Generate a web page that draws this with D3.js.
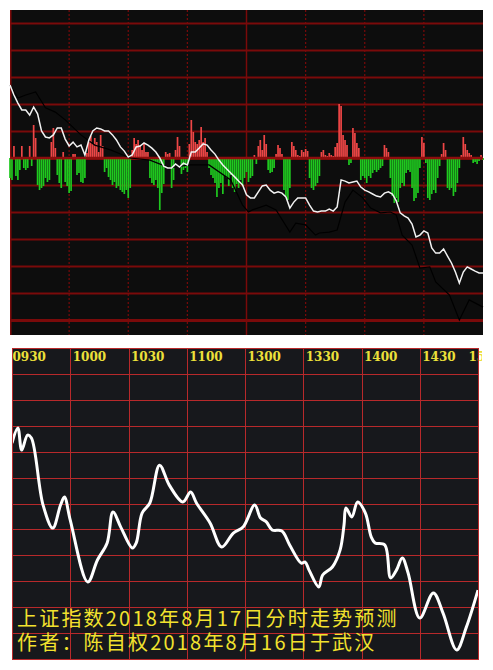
<!DOCTYPE html>
<html>
<head>
<meta charset="utf-8">
<script src="https://cdnjs.cloudflare.com/ajax/libs/d3/7.8.5/d3.min.js"></script>
<style>
  body { margin: 0; background: #ffffff; }
</style>
</head>
<body>
<div class="chart"></div>
<script>
//Trading minutes and their labels (0930 .. 1500, lunch break folded out)
var tickMinutes = [0, 30, 60, 90, 120, 150, 180, 210, 240];
var timeLabels = ["0930", "1000", "1030", "1100", "1300", "1330", "1400", "1430", "1500"];

//Upper panel: change vs previous close (index points), sampled every 2 minutes
var priceChg = [
  24.3, 21.0, 18.3, 16.0, 16.0, 14.3, 17.0, 14.7, 9.0, 7.0,
  6.7, 7.7, 10.0, 10.0, 6.3, 4.0, 5.3, 3.7, 4.3, 1.0,
  6.0, 9.0, 10.0, 9.7, 9.0, 9.0, 7.7, 6.0, 3.7, 2.3,
  0.3, 1.0, 3.7, 4.0, 5.0, 4.3, 3.3, 2.0, 0.0, -2.7,
  -3.3, -3.3, -2.0, -3.0, -1.7, -2.3, 2.0, 2.0, 3.3, 4.7,
  4.3, 2.7, 1.3, -0.7, -2.3, -3.7, -5.0, -6.3, -7.7, -9.0,
  -12.3, -13.3, -13.3, -11.3, -9.3, -9.0, -10.7, -11.7, -11.3, -11.7,
  -13.0, -16.7, -14.7, -13.3, -13.3, -13.3, -15.7, -17.7, -18.0, -17.7,
  -17.7, -17.0, -17.7, -16.3, -7.3, -7.7, -8.3, -8.0, -7.7, -9.7,
  -10.7, -11.3, -12.0, -12.7, -13.0, -11.7, -11.3, -12.0, -14.3, -18.3,
  -19.3, -20.0, -22.0, -26.3, -25.7, -24.3, -25.0, -30.0, -31.7, -31.7,
  -30.3, -32.7, -35.0, -38.0, -41.7, -38.0, -36.3, -37.0, -37.7, -38.3,
  -38.3
];

//Second (dark) line of the upper panel: [minute, change]
var leadLine = [
  [0, 24.3], [4, 20.0], [8, 21.0], [13, 22.0], [18, 16.7], [23, 15.3], [28, 12.7],
  [36, 7.7], [43, 4.3], [51, 2.7], [61, 0], [71, -0.7], [81, -3.3], [91, -2.3],
  [101, -2.3], [112, -7.3], [118, -15.7], [121, -18.0], [123, -17.3], [130, -15.7],
  [135, -17.3], [142, -24.7], [145, -21.7], [150, -22.3], [155, -25.7], [157, -25.0],
  [162, -24.7], [166, -24.0], [170, -14.7], [174, -10.7], [179, -13.3], [183, -16.7],
  [188, -18.3], [193, -18.0], [196, -19.0], [199, -25.7], [204, -29.0], [208, -36.7],
  [213, -36.3], [216, -41.3], [223, -45.7], [228, -54.0], [233, -47.3], [240, -49.7]
];

//Red / green force bars, one per minute
var forceBars = [
  -20, -22, 12, -18, -22, -12, 12, -10, -12, -10,
  12, -8, 33, 20, -27, -32, -30, -28, -20, -24,
  -22, 16, 30, 10, -17, -25, -30, 6, -24, -28,
  -35, -33, 4, 4, -17, -15, -24, -25, -20, 5,
  18, 22, 14, 20, 16, 6, 23, 12, -14, -10,
  -19, -22, -27, -24, -30, -28, -32, -34, -36, -32,
  -40, -30, 8, 20, 14, 18, 12, 8, 15, 6,
  6, -20, -25, -27, -22, -30, -52, -35, -26, 6,
  4, 5, -30, -22, 8, 21, 12, -16, -12, -10,
  -14, 14, 38, 26, 16, 14, 18, 31, 16, 20,
  6, -10, -17, -20, -25, -39, -30, -25, -36, -18,
  -20, -28, -17, -30, -34, -26, -30, -22, -28, -20,
  -14, -24, -20, -18, 3, -6, 12, 18, 8, 23,
  14, -12, -15, -14, -10, 4, 13, 10, 4, -32,
  -38, -42, -30, 16, 12, 8, 3, 2, 8, 6,
  9, 7, -20, -30, -32, -28, -25, -18, 6, 8,
  3, 2, 5, 3, 2, 11, 15, 54, 52, 23,
  18, 13, -7, -5, 30, 25, 15, 10, -22, -18,
  -20, -25, -18, -20, -15, -12, -14, -12, -10, -8,
  13, 10, 6, -20, -38, -45, -40, -44, -30, -25,
  -28, -15, -12, -14, -30, -43, -40, -35, -10, 21,
  15, -5, -40, -42, -36, -32, -35, -20, -8, 4,
  15, 8, -30, -32, -30, -38, -34, -25, -10, 3,
  21, 14, 8, 5, 3, -5, -4, -6, -3, 3,
  -2
];

//Lower panel: hand drawn forecast, minute and level (grid rows of 10)
var forecastMin = [0, 3, 5, 8, 10, 16, 21, 25, 27, 30, 39, 44, 49, 52, 56, 62, 64, 67, 71,
  76, 81, 88, 92, 95, 102, 108, 114, 119, 125, 128, 131, 134, 139, 143, 149, 151, 153,
  158, 160, 165, 169, 171, 172, 175, 178, 182, 185, 187, 192, 195, 198, 201, 204, 210,
  217, 222, 229, 234, 240];
var forecastVal = [83.3, 89.1, 80.6, 86.4, 85.3, 59.4, 50.5, 59.4, 62.5, 53.6, 29.7, 38.2,
  44.8, 56.7, 50.9, 42.8, 44.8, 56.3, 60.2, 74.8, 67.1, 60.6, 64.4, 60.2, 52.5, 43.2,
  48.6, 50.9, 59.4, 54.4, 52.9, 49.8, 49.4, 44.0, 37.0, 37.4, 34.3, 27.8, 32.4, 35.5,
  42.1, 51.7, 58.3, 54.8, 60.6, 56.3, 47.1, 44.8, 44.0, 31.3, 34.3, 39.0, 33.2, 15.8,
  25.5, 17.7, 3.5, 12.3, 26.6];

var titleLines = ["上证指数2018年8月17日分时走势预测", "作者：陈自权2018年8月16日于武汉"];

//Layout
var svgWidth = 493;
var svgHeight = 670;
var upper = { x0: 10, x1: 483, y0: 10, y1: 335 };
var lower = { x0: 12, x1: 478, y0: 348, y1: 659 };

var svg = d3.select(".chart")
  .append("svg")
  .attr("width", svgWidth)
  .attr("height", svgHeight);

//Scales
var xUp = d3.scaleLinear().domain([0, 240]).range([upper.x0, upper.x1]);
var yUp = d3.scaleLinear().domain([-59, 49.33]).range([upper.y1, upper.y0]);
var yForce = d3.scaleLinear().domain([-177, 148]).range([upper.y1, upper.y0]);

var xLow = d3.scaleLinear().domain([0, 240]).range([lower.x0, lower.x1]);
var yLow = d3.scaleLinear().domain([0, 120]).range([lower.y1, lower.y0]);

// ---------- upper panel ----------
var up = svg.append("g");

up.append("rect")
  .attr("x", upper.x0).attr("y", upper.y0)
  .attr("width", upper.x1 - upper.x0).attr("height", upper.y1 - upper.y0)
  .attr("fill", "#0d0d0d");

//horizontal grid from an axis, one line every 9 points
var upGrid = up.append("g")
  .attr("transform", "translate(" + upper.x0 + ",0)")
  .call(d3.axisLeft(yUp)
    .tickValues(d3.range(-54, 46, 9))
    .tickSize(-(upper.x1 - upper.x0))
    .tickFormat(""));
upGrid.select(".domain").remove();
upGrid.selectAll("line")
  .attr("stroke", "#7a0a0a")
  .attr("stroke-width", function(d) { return (d === 0 || d === -54) ? 3 : 2; });

//vertical half hour lines (dotted, noon solid)
up.append("g")
  .selectAll("line")
  .data(tickMinutes.slice(0, -1))
  .enter()
  .append("line")
  .attr("x1", function(d) { return xUp(d) + (d === 0 ? 0.75 : 0); })
  .attr("x2", function(d) { return xUp(d) + (d === 0 ? 0.75 : 0); })
  .attr("y1", upper.y0)
  .attr("y2", upper.y1)
  .attr("stroke", "#7a0a0a")
  .attr("stroke-width", function(d) { return (d === 0 || d === 120) ? 1.5 : 1.2; })
  .attr("stroke-dasharray", function(d) { return (d === 0 || d === 120) ? null : "2,2"; });

//force bars
up.append("g")
  .selectAll("rect")
  .data(forceBars)
  .enter()
  .append("rect")
  .attr("x", function(d, i) { return xUp(i) - 0.85; })
  .attr("width", 1.7)
  .attr("y", function(d) { return d > 0 ? yForce(d) : yForce(0); })
  .attr("height", function(d) { return Math.abs(yForce(d) - yForce(0)); })
  .attr("fill", function(d) { return d > 0 ? "#ee4646" : "#1fc81f"; });

//zero line over the bars
up.append("line")
  .attr("x1", upper.x0).attr("x2", upper.x1)
  .attr("y1", yUp(0)).attr("y2", yUp(0))
  .attr("stroke", "#8c0d0d")
  .attr("stroke-width", 2.5);

//dark companion line
up.append("path")
  .datum(leadLine)
  .attr("fill", "none")
  .attr("stroke", "#000000")
  .attr("stroke-width", 1.2)
  .attr("d", d3.line()
    .x(function(d) { return xUp(d[0]); })
    .y(function(d) { return yUp(d[1]); }));

//price line
up.append("path")
  .datum(priceChg)
  .attr("fill", "none")
  .attr("stroke", "#f2f2f2")
  .attr("stroke-width", 1.5)
  .attr("d", d3.line()
    .x(function(d, i) { return xUp(i * 2); })
    .y(function(d) { return yUp(d); }));

// ---------- lower panel ----------
var low = svg.append("g");

svg.append("clipPath")
  .attr("id", "lowClip")
  .append("rect")
  .attr("x", lower.x0).attr("y", lower.y0)
  .attr("width", lower.x1 - lower.x0 + 4).attr("height", lower.y1 - lower.y0 + 1);

low.append("rect")
  .attr("x", lower.x0).attr("y", lower.y0)
  .attr("width", lower.x1 - lower.x0).attr("height", lower.y1 - lower.y0)
  .attr("fill", "#17181c");

var lowH = low.append("g")
  .attr("transform", "translate(" + lower.x0 + ",0)")
  .call(d3.axisLeft(yLow)
    .tickValues(d3.range(10, 120, 10))
    .tickSize(-(lower.x1 - lower.x0))
    .tickFormat(""));
lowH.select(".domain").remove();
lowH.selectAll("line")
  .attr("stroke", "#b8292b")
  .attr("stroke-width", 1)
  .attr("shape-rendering", "crispEdges");

//time axis: tick lines run down the panel, labels sit in the first row
var lowClipped = low.append("g").attr("clip-path", "url(#lowClip)");
var lowX = lowClipped.append("g")
  .attr("transform", "translate(0," + lower.y0 + ")")
  .call(d3.axisBottom(xLow)
    .tickValues(tickMinutes)
    .tickSize(lower.y1 - lower.y0)
    .tickFormat(function(d, i) { return timeLabels[i]; }));
lowX.select(".domain").remove();
lowX.selectAll("line")
  .attr("stroke", "#b8292b")
  .attr("stroke-width", 1)
  .attr("shape-rendering", "crispEdges");
lowX.selectAll("text")
  .attr("text-anchor", "start")
  .attr("x", function(d) { return d === 0 ? 0 : (d === 240 ? -10 : 2); })
  .attr("y", 12.5)
  .attr("dy", null)
  .attr("fill", "#ece03a")
  .style("font-family", "'DejaVu Serif', serif")
  .style("font-size", "12px")
  .style("font-weight", "bold");

//frame
low.append("rect")
  .attr("x", lower.x0).attr("y", lower.y0)
  .attr("width", lower.x1 - lower.x0).attr("height", lower.y1 - lower.y0)
  .attr("fill", "none")
  .attr("stroke", "#b8292b")
  .attr("stroke-width", 1)
  .attr("shape-rendering", "crispEdges");

//forecast curve
lowClipped.append("path")
  .datum(d3.zip(forecastMin, forecastVal))
  .attr("fill", "none")
  .attr("stroke", "#ffffff")
  .attr("stroke-width", 3)
  .attr("stroke-linejoin", "round")
  .attr("d", d3.line()
    .curve(d3.curveCatmullRom.alpha(0.5))
    .x(function(d) { return xLow(d[0]); })
    .y(function(d) { return yLow(d[1]); }));

//caption
low.append("g")
  .selectAll("text")
  .data(titleLines)
  .enter()
  .append("text")
  .attr("x", 17)
  .attr("y", function(d, i) { return 626 + i * 24; })
  .attr("fill", "#f2e22e")
  .style("font-family", "'Noto Sans CJK SC', sans-serif")
  .style("font-size", "20px")
  .style("letter-spacing", "2.2px")
  .text(function(d) { return d; });
</script>
</body>
</html>
